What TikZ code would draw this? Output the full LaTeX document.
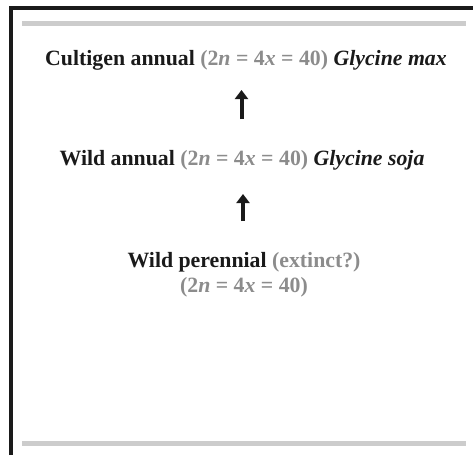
\documentclass[tikz,border=0pt]{standalone}
\usepackage{fontspec}
\setmainfont{Liberation Serif}
\usetikzlibrary{arrows.meta}
\definecolor{inkblack}{HTML}{1A1A1A}
\definecolor{ploidygray}{HTML}{8C8C8C}
\definecolor{rulegray}{HTML}{CCCCCC}
\newcommand{\ploidy}{\textcolor{ploidygray}{(2\textit{n} = 4\textit{x} = 40)}}
\tikzset{
  label text/.style={inner sep=0pt, anchor=base, text=inkblack,
    font=\fontsize{21.8}{25}\selectfont\bfseries},
  uparrow/.style={draw=inkblack, line width=4pt,
    -{Triangle[width=13pt,length=9pt]}},
  frame/.style={draw=inkblack, line width=3.6pt},
  rulebar/.style={fill=rulegray, draw=none}
}
\begin{document}
\begin{tikzpicture}[x=1pt,y=-1pt]
  \useasboundingbox (0,0) rectangle (473,455);
  % open frame: left side and top edge
  \draw[frame] (11,455) -- (11,8) -- (473,8);
  % horizontal grey rules
  \fill[rulebar] (22,21) rectangle (466,26);
  \fill[rulebar] (22,441) rectangle (466,446);
  % lineage labels
  \node[label text] (cultigen) at (246,65)
    {Cultigen annual \ploidy{} \textit{Glycine max}};
  \node[label text] (wildannual) at (242,165)
    {Wild annual \ploidy{} \textit{Glycine soja}};
  \node[label text, align=center] (perennial) at (244,292)
    {Wild perennial \textcolor{ploidygray}{(extinct?)}\\\ploidy};
  % arrow end points between the labels
  \coordinate (a1tail) at (241.5,119);
  \coordinate (a1head) at (241.5,90);
  \coordinate (a2tail) at (243,221);
  \coordinate (a2head) at (243,194);
  \draw[uparrow] (a1tail) -- (a1head);
  \draw[uparrow] (a2tail) -- (a2head);
\end{tikzpicture}
\end{document}
